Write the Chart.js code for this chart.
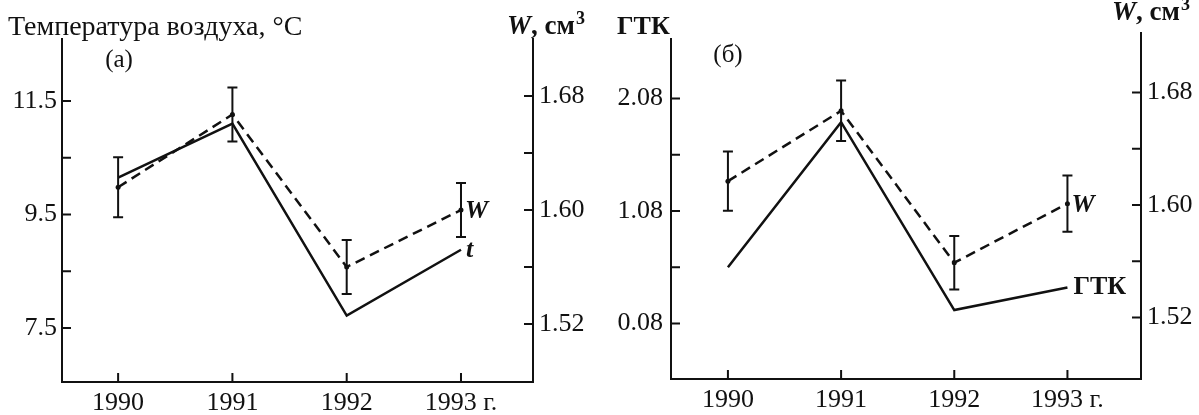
<!DOCTYPE html>
<html><head><meta charset="utf-8">
<script src="https://cdn.jsdelivr.net/npm/chart.js@4.4.1/dist/chart.umd.min.js"></script>
<style>
html,body{margin:0;padding:0;background:#fff;}
#wrap{position:relative;width:1199px;height:415px;overflow:hidden;background:#fff;}
canvas{position:absolute;top:0;}
#cA{left:0;} #cB{left:600px;}
</style></head><body>
<div id="wrap"><canvas id="cA" width="600" height="415"></canvas><canvas id="cB" width="599" height="415"></canvas></div>
<script>
// ---- data ----
const years = [1990, 1991, 1992, 1993];
const yearLabels = ['1990', '1991', '1992', '1993 г.'];
// panel (а): air temperature and W
const airTemp = [10.15, 11.10, 7.72, 8.88];
const wA = [1.616, 1.667, 1.560, 1.600];
const wAErr = [0.021, 0.019, 0.019, 0.019];
const tempTickLabels = [7.5, 9.5, 11.5];
const tempMinorTicks = [8.5, 10.5];
const wTickLabels = [1.52, 1.60, 1.68];
const wMinorTicks = [1.56, 1.64];
// panel (б): ГТК and W
const gtk = [0.58, 1.87, 0.20, 0.40];
const wB = [1.617, 1.667, 1.559, 1.601];
const wBErr = [0.021, 0.0215, 0.019, 0.020];
const gtkTickLabels = [0.08, 1.08, 2.08];
const gtkMinorTicks = [0.58, 1.58];

const INK = '#111';
const FONT = '"Liberation Serif", "Times New Roman", serif';
Chart.defaults.font.family = FONT;
Chart.defaults.color = INK;

function drawUnit(ctx, x, y) {
  // "W, см³", y = baseline
  ctx.textBaseline = 'alphabetic';
  ctx.textAlign = 'left';
  ctx.font = 'italic bold 27px ' + FONT;
  ctx.fillText('W', x, y);
  let cx = x + ctx.measureText('W').width;
  ctx.font = 'bold 27px ' + FONT;
  ctx.fillText(', см', cx, y);
  cx += ctx.measureText(', см').width;
  ctx.font = 'bold 18px ' + FONT;
  ctx.fillText('3', cx + 1, y - 10);
}

function makePanel(canvasId, p) {
  const decor = {
    id: 'panelDecor',
    afterDatasetsDraw(chart) {
      const ctx = chart.ctx, a = chart.chartArea;
      const xs = chart.scales.x, yl = chart.scales.yL, yr = chart.scales.yR;
      ctx.save();
      ctx.strokeStyle = INK; ctx.fillStyle = INK; ctx.lineWidth = 2; ctx.lineCap = 'butt';
      // axis lines
      ctx.beginPath();
      ctx.moveTo(a.left, a.top); ctx.lineTo(a.left, a.bottom + 1);
      ctx.moveTo(a.left - 1, a.bottom); ctx.lineTo(a.right + 1, a.bottom);
      ctx.moveTo(a.right, a.bottom + 1); ctx.lineTo(a.right, a.top + p.rightTopOffset);
      ctx.stroke();
      // inward tick marks
      const TL = 9;
      ctx.beginPath();
      p.leftLabels.concat(p.leftMinor).forEach(v => {
        const y = yl.getPixelForValue(v); ctx.moveTo(a.left, y); ctx.lineTo(a.left + TL, y);
      });
      p.rightLabels.concat(p.rightMinor).forEach(v => {
        const y = yr.getPixelForValue(v); ctx.moveTo(a.right, y); ctx.lineTo(a.right - TL, y);
      });
      years.forEach(v => {
        const x = xs.getPixelForValue(v); ctx.moveTo(x, a.bottom); ctx.lineTo(x, a.bottom - TL);
      });
      ctx.stroke();
      // error bars of W
      ctx.beginPath();
      years.forEach((v, i) => {
        const x = xs.getPixelForValue(v);
        const y1 = yr.getPixelForValue(p.w[i] + p.err[i]);
        const y2 = yr.getPixelForValue(p.w[i] - p.err[i]);
        ctx.moveTo(x, y1); ctx.lineTo(x, y2);
        ctx.moveTo(x - 5, y1); ctx.lineTo(x + 5, y1);
        ctx.moveTo(x - 5, y2); ctx.lineTo(x + 5, y2);
      });
      ctx.stroke();
      ctx.restore();
    },
    afterDraw(chart) {
      const ctx = chart.ctx;
      const xs = chart.scales.x, yl = chart.scales.yL, yr = chart.scales.yR;
      ctx.save();
      ctx.fillStyle = INK;
      ctx.textBaseline = 'alphabetic';
      p.titles.forEach(t => {
        ctx.font = t.font; ctx.textAlign = t.align || 'left';
        ctx.fillText(t.text, t.x, t.y);
      });
      drawUnit(ctx, p.unitX, p.unitY);
      // series labels next to the last points
      const n = years.length - 1;
      const xl = xs.getPixelForValue(years[n]);
      ctx.textAlign = 'left';
      ctx.font = p.mainLabelFont;
      ctx.fillText(p.mainLabel, xl + p.mainLabelDx, yl.getPixelForValue(p.main[n]) + p.mainLabelDy);
      ctx.font = 'italic bold 26px ' + FONT;
      ctx.fillText('W', xl + 4, yr.getPixelForValue(p.w[n]) + 8);
      ctx.restore();
    }
  };

  const tickFont = { size: 26 };
  return new Chart(document.getElementById(canvasId), {
    type: 'line',
    data: {
      datasets: [
        { data: years.map((x, i) => ({ x, y: p.main[i] })), yAxisID: 'yL',
          borderColor: INK, borderWidth: 2.5, pointRadius: 0, tension: 0, fill: false },
        { data: years.map((x, i) => ({ x, y: p.w[i] })), yAxisID: 'yR',
          borderColor: INK, borderWidth: 2.5, borderDash: [10, 6],
          pointRadius: 2.5, pointBackgroundColor: INK, pointBorderWidth: 0, tension: 0, fill: false }
      ]
    },
    options: {
      responsive: false, animation: false, devicePixelRatio: 1,
      layout: { padding: { top: 38, left: 0, right: 0, bottom: 0 } },
      plugins: { legend: { display: false }, tooltip: { enabled: false } },
      scales: {
        x: {
          type: 'linear', min: p.xMin, max: p.xMax,
          afterBuildTicks: s => { s.ticks = years.map(v => ({ value: v })); },
          ticks: { callback: (v, i) => yearLabels[i], font: tickFont, color: INK, padding: 6,
                   maxRotation: 0, autoSkip: false },
          grid: { display: false, drawTicks: false }, border: { display: false },
          afterFit: s => { s.height = p.xHeight; }
        },
        yL: {
          type: 'linear', position: 'left', min: p.lMin, max: p.lMax,
          afterBuildTicks: s => { s.ticks = p.leftLabels.map(v => ({ value: v })); },
          ticks: { callback: v => Number(v).toFixed(p.lDec), font: tickFont, color: INK, padding: p.lPad },
          grid: { display: false, drawTicks: false }, border: { display: false },
          afterFit: s => { s.width = p.lWidth; }
        },
        yR: {
          type: 'linear', position: 'right', min: p.rMin, max: p.rMax,
          afterBuildTicks: s => { s.ticks = p.rightLabels.map(v => ({ value: v })); },
          ticks: { callback: v => Number(v).toFixed(2), font: tickFont, color: INK, padding: 6 },
          grid: { display: false, drawTicks: false }, border: { display: false },
          afterFit: s => { s.width = p.rWidth; }
        }
      }
    },
    plugins: [decor]
  });
}

makePanel('cA', {
  main: airTemp, w: wA, err: wAErr,
  leftLabels: tempTickLabels, leftMinor: tempMinorTicks, lDec: 1, lPad: 5,
  rightLabels: wTickLabels, rightMinor: wMinorTicks,
  lMin: 6.55, lMax: 12.61, rMin: 1.4793, rMax: 1.7207,
  xMin: 1989.509, xMax: 1993.63,
  lWidth: 62, rWidth: 67, xHeight: 33, rightTopOffset: 0,
  titles: [
    { text: 'Температура воздуха, °C', x: 8, y: 35, font: '28px ' + FONT },
    { text: '(а)', x: 119, y: 67, font: '25px ' + FONT, align: 'center' }
  ],
  unitX: 507, unitY: 34,
  mainLabel: 't', mainLabelFont: 'italic bold 26px ' + FONT, mainLabelDx: 5, mainLabelDy: 7
});

makePanel('cB', {
  main: gtk, w: wB, err: wBErr,
  leftLabels: gtkTickLabels, leftMinor: gtkMinorTicks, lDec: 2, lPad: 8,
  rightLabels: wTickLabels, rightMinor: wMinorTicks,
  lMin: -0.413, lMax: 2.618, rMin: 1.4763, rMax: 1.7188,
  xMin: 1989.497, xMax: 1993.65,
  lWidth: 71, rWidth: 58, xHeight: 36, rightTopOffset: -6,
  titles: [
    { text: 'ГТК', x: 17, y: 34, font: 'bold 26px ' + FONT },
    { text: '(б)', x: 128, y: 62, font: '25px ' + FONT, align: 'center' }
  ],
  unitX: 512, unitY: 20,
  mainLabel: 'ГТК', mainLabelFont: 'bold 26px ' + FONT, mainLabelDx: 6, mainLabelDy: 6
});
</script>
</body></html>
